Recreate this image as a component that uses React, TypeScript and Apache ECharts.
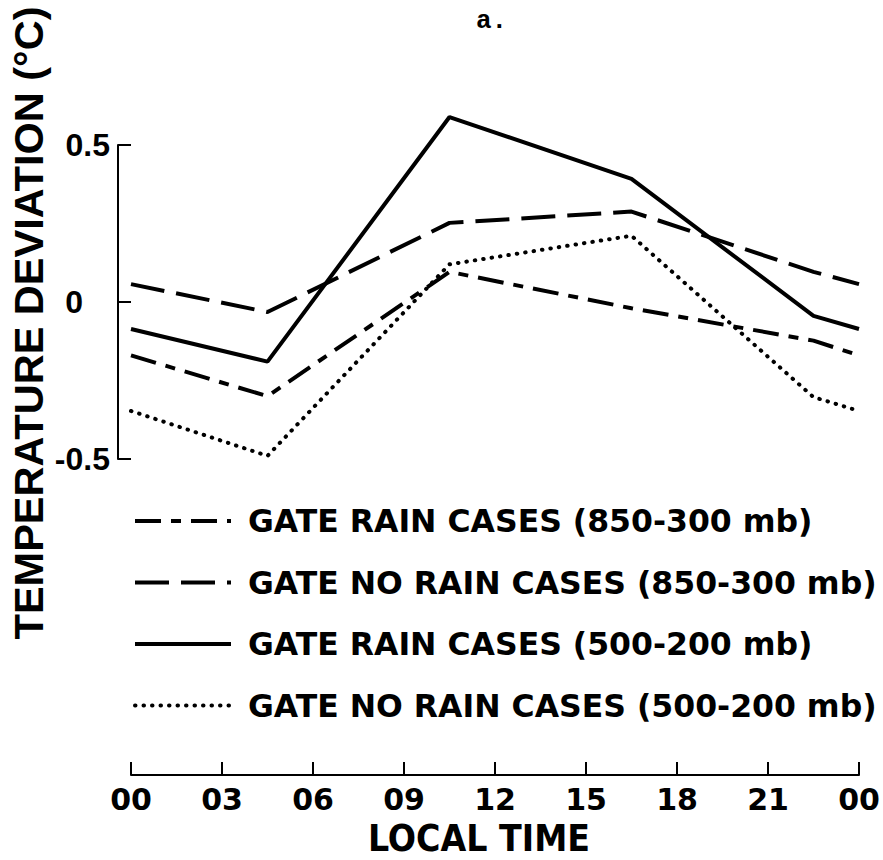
import React, { useEffect, useRef } from "react";
import * as echarts from "echarts";

// Local time (hours) of the observations
const hours = [0, 4.5, 10.5, 16.5, 22.5, 24];
// Temperature deviation (°C)
const rain850 = [-0.17, -0.3, 0.096, -0.02, -0.123, -0.17];
const noRain850 = [0.057, -0.032, 0.252, 0.288, 0.096, 0.057];
const rain500 = [-0.086, -0.19, 0.589, 0.392, -0.044, -0.086];
const noRain500 = [-0.347, -0.49, 0.12, 0.211, -0.303, -0.347];

const seriesNames = [
  "GATE RAIN CASES (850-300 mb)",
  "GATE NO RAIN CASES (850-300 mb)",
  "GATE RAIN CASES (500-200 mb)",
  "GATE NO RAIN CASES (500-200 mb)",
];
const xTickLabels = ["00", "03", "06", "09", "12", "15", "18", "21", "00"];
const yTickLabels: Record<string, string> = { "-0.5": "-0.5", "0": "0", "0.5": "0.5" };

const BOLD_SANS = "'DejaVu Sans', sans-serif";
const ARIAL = "'Liberation Sans', Arial, sans-serif";

export default function App() {
  const ref = useRef<HTMLDivElement>(null);
  useEffect(() => {
    if (!ref.current) return;
    const chart = echarts.init(ref.current, null, { renderer: "svg" });
    const lineBase = { color: "#000", width: 4 };
    const hiddenItem = { color: "#000", opacity: 0 };
    const mk = (arr: number[]) => hours.map((h, i) => [h, arr[i]]);
    chart.setOption({
      animation: false,
      backgroundColor: "#fff",
      color: ["#000", "#000", "#000", "#000"],
      grid: { left: 131, right: 24, top: 145, height: 314, containLabel: false },
      xAxis: {
        type: "value",
        min: 0,
        max: 24,
        interval: 3,
        position: "bottom",
        offset: 316,
        axisLine: { show: true, onZero: false, lineStyle: { color: "#000", width: 2 } },
        axisTick: { show: true, inside: true, length: 13, lineStyle: { color: "#000", width: 2 } },
        axisLabel: {
          margin: 9,
          color: "#000",
          fontFamily: BOLD_SANS,
          fontWeight: "bold",
          fontSize: 30,
          lineHeight: 30,
          formatter: (v: number) => xTickLabels[Math.round(v / 3)],
        },
        splitLine: { show: false },
      },
      yAxis: {
        type: "value",
        min: -0.5,
        max: 0.5,
        interval: 0.5,
        position: "left",
        offset: 13,
        axisLine: { show: true, onZero: false, lineStyle: { color: "#000", width: 2 } },
        axisTick: { show: true, inside: true, length: 13, lineStyle: { color: "#000", width: 2 } },
        axisLabel: {
          margin: 8,
          formatter: (v: number) => {
            const key = String(Math.round(v * 10) / 10);
            const t = yTickLabels[key] ?? key;
            return key === "0" ? `{z|${t}}` : `{n|${t}}`;
          },
          rich: {
            n: { fontFamily: ARIAL, fontWeight: "bold", fontSize: 32, color: "#000" },
            z: { fontFamily: ARIAL, fontWeight: "bold", fontSize: 32, color: "#000", padding: [0, 27, 0, 0] },
          },
        },
        splitLine: { show: false },
      },
      legend: {
        orient: "vertical",
        left: 128,
        top: 500,
        itemWidth: 96,
        itemHeight: 14,
        itemGap: 29.5,
        selectedMode: false,
        data: seriesNames,
        itemStyle: { opacity: 0 },
        lineStyle: { width: 4 },
        textStyle: {
          fontFamily: BOLD_SANS,
          fontWeight: "bold",
          fontSize: 31.5,
          color: "#000",
          padding: [0, 0, 0, 12],
        },
      },
      graphic: [
        {
          type: "text",
          x: 28,
          y: 323,
          rotation: Math.PI / 2,
          style: {
            text: "TEMPERATURE DEVIATION (°C)",
            fontFamily: ARIAL,
            fontWeight: "bold",
            fontSize: 41.5,
            fill: "#000",
            align: "center",
            verticalAlign: "middle",
          },
        },
        {
          type: "text",
          x: 479,
          y: 838,
          style: {
            text: "LOCAL TIME",
            fontFamily: "'Liberation Sans Narrow', 'DejaVu Sans Condensed', sans-serif",
            fontWeight: "bold",
            fontSize: 37,
            lineHeight: 33,
            fill: "#000",
            align: "center",
            verticalAlign: "middle",
          },
        },
        {
          type: "text",
          x: 476,
          y: 21,
          style: {
            text: "a.",
            fontFamily: "'Liberation Mono', monospace",
            fontWeight: "bold",
            fontSize: 26,
            fill: "#000",
            align: "left",
            verticalAlign: "middle",
          },
        },
      ],
      series: [
        {
          name: seriesNames[0],
          type: "line",
          symbol: "none",
          clip: false,
          data: mk(rain850),
          itemStyle: hiddenItem,
          lineStyle: { ...lineBase, type: [26, 10, 10, 10] },
        },
        {
          name: seriesNames[1],
          type: "line",
          symbol: "none",
          clip: false,
          data: mk(noRain850),
          itemStyle: hiddenItem,
          lineStyle: { ...lineBase, type: [34, 12] },
        },
        {
          name: seriesNames[2],
          type: "line",
          symbol: "none",
          clip: false,
          data: mk(rain500),
          itemStyle: hiddenItem,
          lineStyle: { ...lineBase },
        },
        {
          name: seriesNames[3],
          type: "line",
          symbol: "none",
          clip: false,
          data: mk(noRain500),
          itemStyle: hiddenItem,
          lineStyle: { ...lineBase, type: [0.5, 8], cap: "round" },
        },
      ],
    });
    return () => chart.dispose();
  }, []);
  return (
    <div
      ref={ref}
      style={{ position: "absolute", left: 0, top: 0, width: 883, height: 860, background: "#fff" }}
    />
  );
}
